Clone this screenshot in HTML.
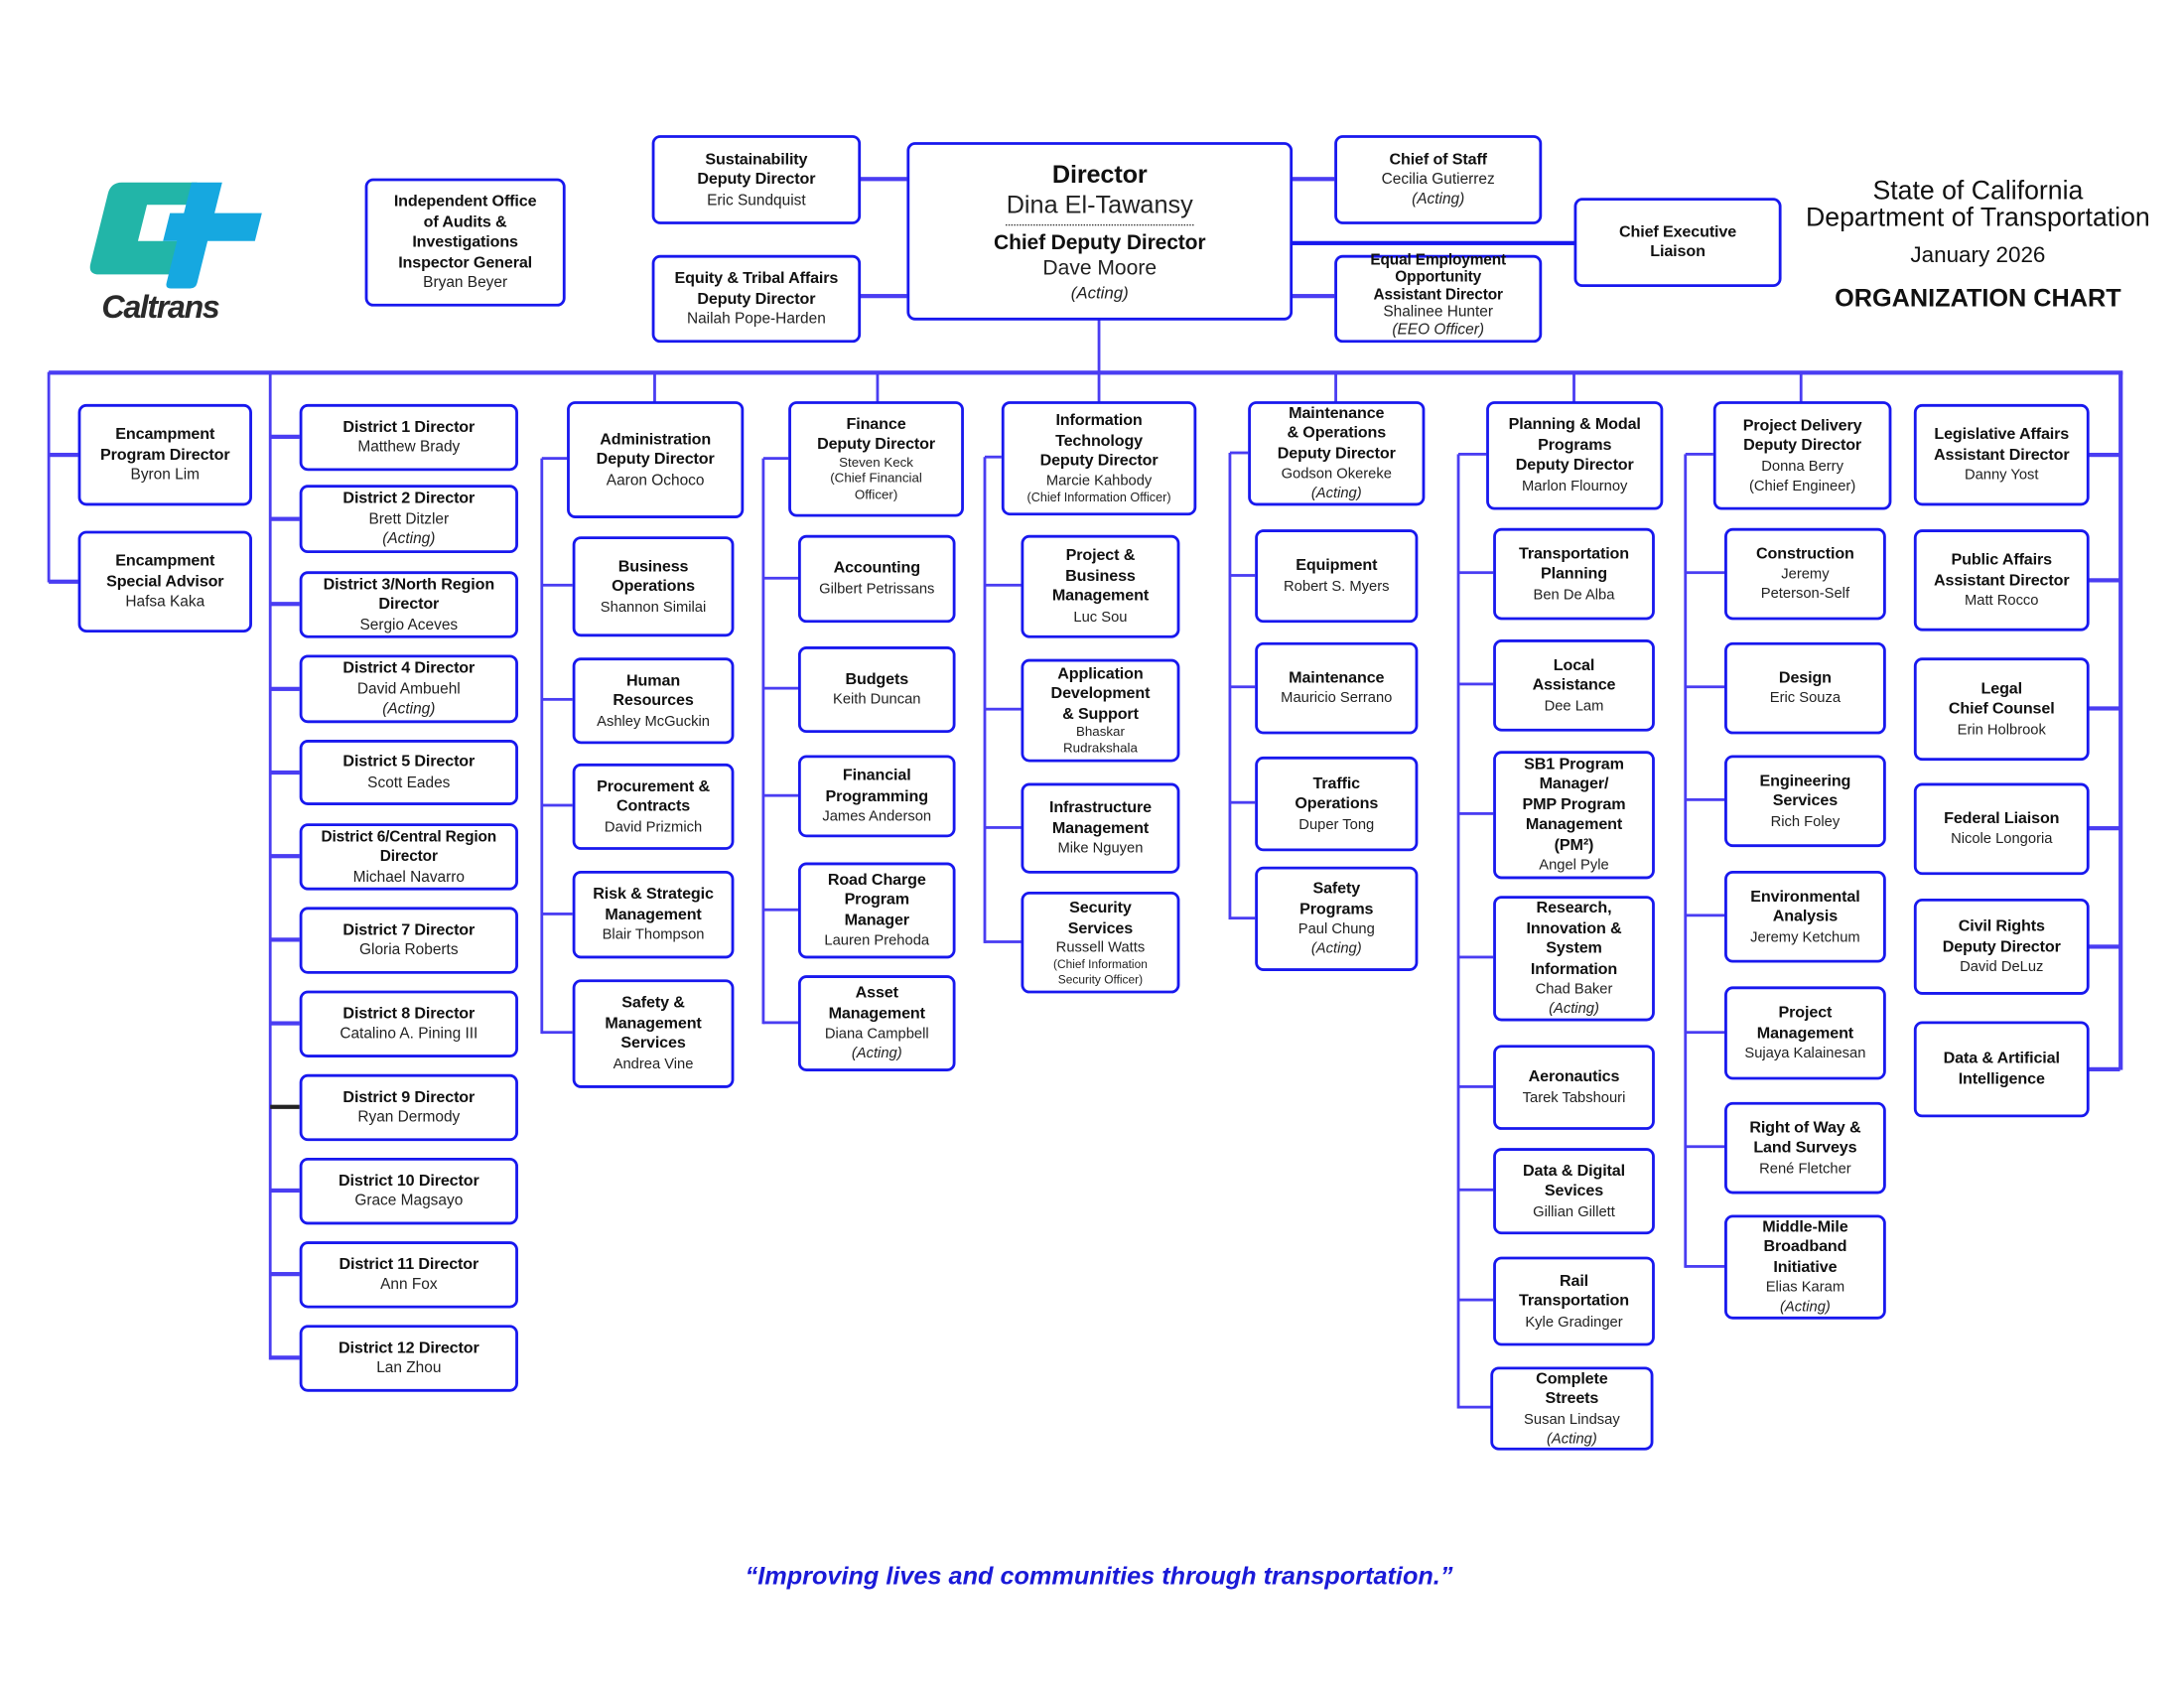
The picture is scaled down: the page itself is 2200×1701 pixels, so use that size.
<!DOCTYPE html>
<html><head><meta charset="utf-8"><style>
html,body{margin:0;padding:0;background:#fff}
body{width:2200px;height:1700px;overflow:hidden;position:relative}
#w{position:absolute;left:0;top:0;width:1568px;height:1212px;transform:scale(1.4031);transform-origin:0 0;font-family:"Liberation Sans",sans-serif;color:#111}
.b{position:absolute;box-sizing:border-box;border:2.5px solid #1818ee;border-radius:6px;background:#fff;display:flex;flex-direction:column;align-items:center;justify-content:center;text-align:center;font-size:11px;line-height:14px}
.b b{font-size:11.5px;line-height:14.5px;letter-spacing:-0.1px}
.b span{font-size:11px;color:#222}
.b i{font-size:11px;color:#222}
.s{font-size:9.5px!important;line-height:11.5px}
.h{position:absolute;height:2px;background:#4a3df2}
.v{position:absolute;width:2px;background:#4a3df2}
.t{position:absolute;text-align:center}
</style></head><body><div id="w">

<svg style="position:absolute;left:55px;top:125px" width="135" height="112" viewBox="0 0 135 112">
<g transform="skewX(-14) translate(22,0)">
<path d="M12 6 H66 V22 H34 V48 H66 V72 H12 Q4 72 4 64 V14 Q4 6 12 6 Z" fill="#22b5a8"/>
<path d="M62 6 H84 V28 H118 V48 H84 V78 Q84 82 80 82 H66 Q62 82 62 78 V48 H52 V28 H62 Z" fill="#16a8e0"/>
</g>
<text x="18" y="103" font-family="Liberation Sans" font-weight="bold" font-style="italic" font-size="23" fill="#2a2a2a" letter-spacing="-1">Caltrans</text>
</svg>

<div class="t" style="left:1280px;top:128px;width:280px;font-size:19px;line-height:19px">State of California<br>Department of Transportation</div>
<div class="t" style="left:1280px;top:175px;width:280px;font-size:16px">January 2026</div>
<div class="t" style="left:1280px;top:204px;width:280px;font-size:18px;font-weight:bold">ORGANIZATION CHART</div>

<div class="h" style="left:617px;top:127px;width:34px;height:3px"></div>
<div class="h" style="left:617px;top:211px;width:34px;height:3px"></div>
<div class="h" style="left:927px;top:127px;width:31px;height:3px"></div>
<div class="h" style="left:927px;top:211px;width:31px;height:3px"></div>
<div class="h" style="left:927px;top:173px;width:203px;height:3px;background:#1818ee"></div>
<div class="v" style="left:788px;top:229px;height:39px"></div>
<div class="h" style="left:35px;top:266px;width:1489px;height:3px"></div>

<div class="b" style="left:262px;top:128px;width:144px;height:92px"><b>Independent Office<br>of Audits &amp;<br>Investigations<br>Inspector General</b><span>Bryan Beyer</span></div>
<div class="b" style="left:468px;top:97px;width:150px;height:64px"><b>Sustainability<br>Deputy Director</b><span>Eric Sundquist</span></div>
<div class="b" style="left:468px;top:183px;width:150px;height:63px"><b>Equity &amp; Tribal Affairs<br>Deputy Director</b><span>Nailah Pope-Harden</span></div>
<div class="b" style="left:651px;top:102px;width:277px;height:128px;line-height:20px"><b style="font-size:18px;line-height:22px">Director</b><span style="font-size:18px;line-height:22px">Dina El-Tawansy</span><div style="width:135px;border-top:1.5px dotted #333;margin:3px 0 4px"></div><b style="font-size:15px;line-height:18px">Chief Deputy Director</b><span style="font-size:15px;line-height:18px">Dave Moore</span><i style="font-size:12px;line-height:16px">(Acting)</i></div>
<div class="b" style="left:958px;top:97px;width:149px;height:64px"><b>Chief of Staff</b><span>Cecilia Gutierrez</span><i>(Acting)</i></div>
<div class="b" style="left:958px;top:183px;width:149px;height:63px;line-height:12.5px;justify-content:flex-end;padding-bottom:1px"><b style="font-size:11px;line-height:12.5px">Equal Employment<br>Opportunity<br>Assistant Director</b><span style="line-height:13px">Shalinee Hunter</span><i style="line-height:12px">(EEO Officer)</i></div>
<div class="b" style="left:1130px;top:142px;width:149px;height:64px"><b>Chief Executive<br>Liaison</b></div>

<div class="v" style="left:34px;top:267px;height:151px"></div>
<div class="h" style="left:35px;top:325px;width:21px;height:3px"></div>
<div class="h" style="left:35px;top:416px;width:21px;height:3px"></div>
<div class="b" style="left:56px;top:290px;width:125px;height:73px"><b>Encampment<br>Program Director</b><span>Byron Lim</span></div>
<div class="b" style="left:56px;top:381px;width:125px;height:73px"><b>Encampment<br>Special Advisor</b><span>Hafsa Kaka</span></div>

<div class="v" style="left:193px;top:267px;height:709px"></div>
<div class="h" style="left:194px;top:312px;width:21px;height:3px"></div>
<div class="h" style="left:194px;top:371px;width:21px;height:3px"></div>
<div class="h" style="left:194px;top:432px;width:21px;height:3px"></div>
<div class="h" style="left:194px;top:493px;width:21px;height:3px"></div>
<div class="h" style="left:194px;top:553px;width:21px;height:3px"></div>
<div class="h" style="left:194px;top:613px;width:21px;height:3px"></div>
<div class="h" style="left:194px;top:673px;width:21px;height:3px"></div>
<div class="h" style="left:194px;top:733px;width:21px;height:3px"></div>
<div class="h" style="left:194px;top:793px;width:21px;height:3px;background:#222"></div>
<div class="h" style="left:194px;top:853px;width:21px;height:3px"></div>
<div class="h" style="left:194px;top:913px;width:21px;height:3px"></div>
<div class="h" style="left:194px;top:973px;width:21px;height:3px"></div>
<div class="b" style="left:215px;top:290px;width:157px;height:48px"><b>District 1 Director</b><span>Matthew Brady</span></div>
<div class="b" style="left:215px;top:348px;width:157px;height:49px"><b>District 2 Director</b><span>Brett Ditzler</span><i>(Acting)</i></div>
<div class="b" style="left:215px;top:410px;width:157px;height:48px"><b>District 3/North Region<br>Director</b><span>Sergio Aceves</span></div>
<div class="b" style="left:215px;top:470px;width:157px;height:49px"><b>District 4 Director</b><span>David Ambuehl</span><i>(Acting)</i></div>
<div class="b" style="left:215px;top:531px;width:157px;height:47px"><b>District 5 Director</b><span>Scott Eades</span></div>
<div class="b" style="left:215px;top:591px;width:157px;height:48px"><b style="font-size:11px">District 6/Central Region<br>Director</b><span>Michael Navarro</span></div>
<div class="b" style="left:215px;top:651px;width:157px;height:48px"><b>District 7 Director</b><span>Gloria Roberts</span></div>
<div class="b" style="left:215px;top:711px;width:157px;height:48px"><b>District 8 Director</b><span>Catalino A. Pining III</span></div>
<div class="b" style="left:215px;top:771px;width:157px;height:48px"><b>District 9 Director</b><span>Ryan Dermody</span></div>
<div class="b" style="left:215px;top:831px;width:157px;height:48px"><b>District 10 Director</b><span>Grace Magsayo</span></div>
<div class="b" style="left:215px;top:891px;width:157px;height:48px"><b>District 11 Director</b><span>Ann Fox</span></div>
<div class="b" style="left:215px;top:951px;width:157px;height:48px"><b>District 12 Director</b><span>Lan Zhou</span></div>

<div class="v" style="left:469px;top:267px;height:22px"></div>
<div class="v" style="left:388px;top:329px;height:413px"></div>
<div class="h" style="left:389px;top:328px;width:18px"></div>
<div class="h" style="left:389px;top:419px;width:22px"></div>
<div class="h" style="left:389px;top:501px;width:22px"></div>
<div class="h" style="left:389px;top:577px;width:22px"></div>
<div class="h" style="left:389px;top:655px;width:22px"></div>
<div class="h" style="left:389px;top:740px;width:22px"></div>
<div class="b" style="left:407px;top:288px;width:127px;height:84px"><b>Administration<br>Deputy Director</b><span>Aaron Ochoco</span></div>
<div class="b" style="left:411px;top:385px;width:116px;height:72px"><b>Business<br>Operations</b><span style="font-size:10.5px">Shannon Similai</span></div>
<div class="b" style="left:411px;top:472px;width:116px;height:62px"><b>Human<br>Resources</b><span style="font-size:10.5px">Ashley McGuckin</span></div>
<div class="b" style="left:411px;top:548px;width:116px;height:62px"><b>Procurement &amp;<br>Contracts</b><span style="font-size:10.5px">David Prizmich</span></div>
<div class="b" style="left:411px;top:625px;width:116px;height:63px"><b>Risk &amp; Strategic<br>Management</b><span style="font-size:10.5px">Blair Thompson</span></div>
<div class="b" style="left:411px;top:703px;width:116px;height:78px"><b>Safety &amp;<br>Management<br>Services</b><span style="font-size:10.5px">Andrea Vine</span></div>

<div class="v" style="left:629px;top:267px;height:22px"></div>
<div class="v" style="left:547px;top:329px;height:406px"></div>
<div class="h" style="left:548px;top:328px;width:18px"></div>
<div class="h" style="left:548px;top:414px;width:25px"></div>
<div class="h" style="left:548px;top:493px;width:25px"></div>
<div class="h" style="left:548px;top:570px;width:25px"></div>
<div class="h" style="left:548px;top:652px;width:25px"></div>
<div class="h" style="left:548px;top:733px;width:25px"></div>
<div class="b" style="left:566px;top:288px;width:126px;height:83px"><b>Finance<br>Deputy Director</b><span class="s">Steven Keck<br>(Chief Financial<br>Officer)</span></div>
<div class="b" style="left:573px;top:384px;width:113px;height:63px"><b>Accounting</b><span style="font-size:10.5px">Gilbert Petrissans</span></div>
<div class="b" style="left:573px;top:464px;width:113px;height:62px"><b>Budgets</b><span style="font-size:10.5px">Keith Duncan</span></div>
<div class="b" style="left:573px;top:542px;width:113px;height:59px"><b>Financial<br>Programming</b><span style="font-size:10.5px">James Anderson</span></div>
<div class="b" style="left:573px;top:619px;width:113px;height:69px"><b>Road Charge<br>Program<br>Manager</b><span style="font-size:10.5px">Lauren Prehoda</span></div>
<div class="b" style="left:573px;top:700px;width:113px;height:69px"><b>Asset<br>Management</b><span style="font-size:10.5px">Diana Campbell</span><i style="font-size:10.5px">(Acting)</i></div>

<div class="v" style="left:788px;top:267px;height:22px"></div>
<div class="v" style="left:706px;top:328px;height:349px"></div>
<div class="h" style="left:707px;top:327px;width:12px"></div>
<div class="h" style="left:707px;top:419px;width:26px"></div>
<div class="h" style="left:707px;top:508px;width:26px"></div>
<div class="h" style="left:707px;top:593px;width:26px"></div>
<div class="h" style="left:707px;top:675px;width:26px"></div>
<div class="b" style="left:719px;top:288px;width:140px;height:82px"><b>Information<br>Technology<br>Deputy Director</b><span style="font-size:10.5px;line-height:13px">Marcie Kahbody</span><span class="s" style="font-size:9px!important">(Chief Information Officer)</span></div>
<div class="b" style="left:733px;top:384px;width:114px;height:74px"><b>Project &amp;<br>Business<br>Management</b><span style="font-size:10.5px">Luc Sou</span></div>
<div class="b" style="left:733px;top:473px;width:114px;height:74px"><b>Application<br>Development<br>&amp; Support</b><span class="s">Bhaskar<br>Rudrakshala</span></div>
<div class="b" style="left:733px;top:562px;width:114px;height:65px"><b>Infrastructure<br>Management</b><span style="font-size:10.5px">Mike Nguyen</span></div>
<div class="b" style="left:733px;top:640px;width:114px;height:73px"><b>Security<br>Services</b><span style="font-size:10.5px;line-height:13px">Russell Watts</span><span class="s" style="font-size:8.5px!important;line-height:10.5px">(Chief Information<br>Security Officer)</span></div>

<div class="v" style="left:958px;top:267px;height:22px"></div>
<div class="v" style="left:882px;top:325px;height:335px"></div>
<div class="h" style="left:883px;top:324px;width:13px"></div>
<div class="h" style="left:883px;top:412px;width:18px"></div>
<div class="h" style="left:883px;top:492px;width:18px"></div>
<div class="h" style="left:883px;top:575px;width:18px"></div>
<div class="h" style="left:883px;top:658px;width:18px"></div>
<div class="b" style="left:896px;top:288px;width:127px;height:75px"><b>Maintenance<br>&amp; Operations<br>Deputy Director</b><span style="font-size:10.5px">Godson Okereke</span><i style="font-size:10.5px">(Acting)</i></div>
<div class="b" style="left:901px;top:380px;width:117px;height:67px"><b>Equipment</b><span style="font-size:10.5px">Robert S. Myers</span></div>
<div class="b" style="left:901px;top:461px;width:117px;height:66px"><b>Maintenance</b><span style="font-size:10.5px">Mauricio Serrano</span></div>
<div class="b" style="left:901px;top:543px;width:117px;height:68px"><b>Traffic<br>Operations</b><span style="font-size:10.5px">Duper Tong</span></div>
<div class="b" style="left:901px;top:622px;width:117px;height:75px"><b>Safety<br>Programs</b><span style="font-size:10.5px">Paul Chung</span><i style="font-size:10.5px">(Acting)</i></div>

<div class="v" style="left:1129px;top:267px;height:22px"></div>
<div class="v" style="left:1046px;top:326px;height:685px"></div>
<div class="h" style="left:1047px;top:325px;width:20px"></div>
<div class="h" style="left:1047px;top:410px;width:25px"></div>
<div class="h" style="left:1047px;top:490px;width:25px"></div>
<div class="h" style="left:1047px;top:583px;width:25px"></div>
<div class="h" style="left:1047px;top:686px;width:25px"></div>
<div class="h" style="left:1047px;top:779px;width:25px"></div>
<div class="h" style="left:1047px;top:853px;width:25px"></div>
<div class="h" style="left:1047px;top:932px;width:25px"></div>
<div class="h" style="left:1047px;top:1009px;width:25px"></div>
<div class="b" style="left:1067px;top:288px;width:127px;height:78px"><b>Planning &amp; Modal<br>Programs<br>Deputy Director</b><span style="font-size:10.5px">Marlon Flournoy</span></div>
<div class="b" style="left:1072px;top:379px;width:116px;height:66px"><b>Transportation<br>Planning</b><span style="font-size:10.5px">Ben De Alba</span></div>
<div class="b" style="left:1072px;top:459px;width:116px;height:66px"><b>Local<br>Assistance</b><span style="font-size:10.5px">Dee Lam</span></div>
<div class="b" style="left:1072px;top:539px;width:116px;height:92px"><b>SB1 Program<br>Manager/<br>PMP Program<br>Management<br>(PM²)</b><span style="font-size:10.5px">Angel Pyle</span></div>
<div class="b" style="left:1072px;top:643px;width:116px;height:90px"><b>Research,<br>Innovation &amp;<br>System<br>Information</b><span style="font-size:10.5px">Chad Baker</span><i style="font-size:10.5px">(Acting)</i></div>
<div class="b" style="left:1072px;top:750px;width:116px;height:61px"><b>Aeronautics</b><span style="font-size:10.5px">Tarek Tabshouri</span></div>
<div class="b" style="left:1072px;top:824px;width:116px;height:62px"><b>Data &amp; Digital<br>Sevices</b><span style="font-size:10.5px">Gillian Gillett</span></div>
<div class="b" style="left:1072px;top:902px;width:116px;height:64px"><b>Rail<br>Transportation</b><span style="font-size:10.5px">Kyle Gradinger</span></div>
<div class="b" style="left:1070px;top:981px;width:117px;height:60px"><b>Complete<br>Streets</b><span style="font-size:10.5px">Susan Lindsay</span><i style="font-size:10.5px">(Acting)</i></div>

<div class="v" style="left:1292px;top:267px;height:22px"></div>
<div class="v" style="left:1209px;top:326px;height:584px"></div>
<div class="h" style="left:1210px;top:325px;width:20px"></div>
<div class="h" style="left:1210px;top:410px;width:28px"></div>
<div class="h" style="left:1210px;top:492px;width:28px"></div>
<div class="h" style="left:1210px;top:573px;width:28px"></div>
<div class="h" style="left:1210px;top:656px;width:28px"></div>
<div class="h" style="left:1210px;top:740px;width:28px"></div>
<div class="h" style="left:1210px;top:822px;width:28px"></div>
<div class="h" style="left:1210px;top:908px;width:28px"></div>
<div class="b" style="left:1230px;top:288px;width:128px;height:78px"><b>Project Delivery<br>Deputy Director</b><span style="font-size:10.5px">Donna Berry</span><span style="font-size:10.5px">(Chief Engineer)</span></div>
<div class="b" style="left:1238px;top:379px;width:116px;height:66px"><b>Construction</b><span style="font-size:10.5px">Jeremy<br>Peterson-Self</span></div>
<div class="b" style="left:1238px;top:461px;width:116px;height:66px"><b>Design</b><span style="font-size:10.5px">Eric Souza</span></div>
<div class="b" style="left:1238px;top:542px;width:116px;height:66px"><b>Engineering<br>Services</b><span style="font-size:10.5px">Rich Foley</span></div>
<div class="b" style="left:1238px;top:625px;width:116px;height:66px"><b>Environmental<br>Analysis</b><span style="font-size:10.5px">Jeremy Ketchum</span></div>
<div class="b" style="left:1238px;top:708px;width:116px;height:67px"><b>Project<br>Management</b><span style="font-size:10.5px">Sujaya Kalainesan</span></div>
<div class="b" style="left:1238px;top:791px;width:116px;height:66px"><b>Right of Way &amp;<br>Land Surveys</b><span style="font-size:10.5px">René Fletcher</span></div>
<div class="b" style="left:1238px;top:872px;width:116px;height:75px"><b>Middle-Mile<br>Broadband<br>Initiative</b><span style="font-size:10.5px">Elias Karam</span><i style="font-size:10.5px">(Acting)</i></div>

<div class="v" style="left:1521px;top:267px;height:501px;width:3px"></div>
<div class="h" style="left:1499px;top:325px;width:23px;height:3px"></div>
<div class="h" style="left:1499px;top:415px;width:23px;height:3px"></div>
<div class="h" style="left:1499px;top:507px;width:23px;height:3px"></div>
<div class="h" style="left:1499px;top:593px;width:23px;height:3px"></div>
<div class="h" style="left:1499px;top:678px;width:23px;height:3px"></div>
<div class="h" style="left:1499px;top:766px;width:23px;height:3px"></div>
<div class="b" style="left:1374px;top:290px;width:126px;height:73px"><b>Legislative Affairs<br>Assistant Director</b><span style="font-size:10.5px">Danny Yost</span></div>
<div class="b" style="left:1374px;top:380px;width:126px;height:73px"><b>Public Affairs<br>Assistant Director</b><span style="font-size:10.5px">Matt Rocco</span></div>
<div class="b" style="left:1374px;top:472px;width:126px;height:74px"><b>Legal<br>Chief Counsel</b><span style="font-size:10.5px">Erin Holbrook</span></div>
<div class="b" style="left:1374px;top:562px;width:126px;height:66px"><b>Federal Liaison</b><span style="font-size:10.5px">Nicole Longoria</span></div>
<div class="b" style="left:1374px;top:645px;width:126px;height:69px"><b>Civil Rights<br>Deputy Director</b><span style="font-size:10.5px">David DeLuz</span></div>
<div class="b" style="left:1374px;top:733px;width:126px;height:69px"><b>Data &amp; Artificial<br>Intelligence</b></div>

<div class="t" style="left:389px;top:1121px;width:800px;font-size:18px;font-weight:bold;font-style:italic;color:#1a1ad8">“Improving lives and communities through transportation.”</div>
</div></body></html>
